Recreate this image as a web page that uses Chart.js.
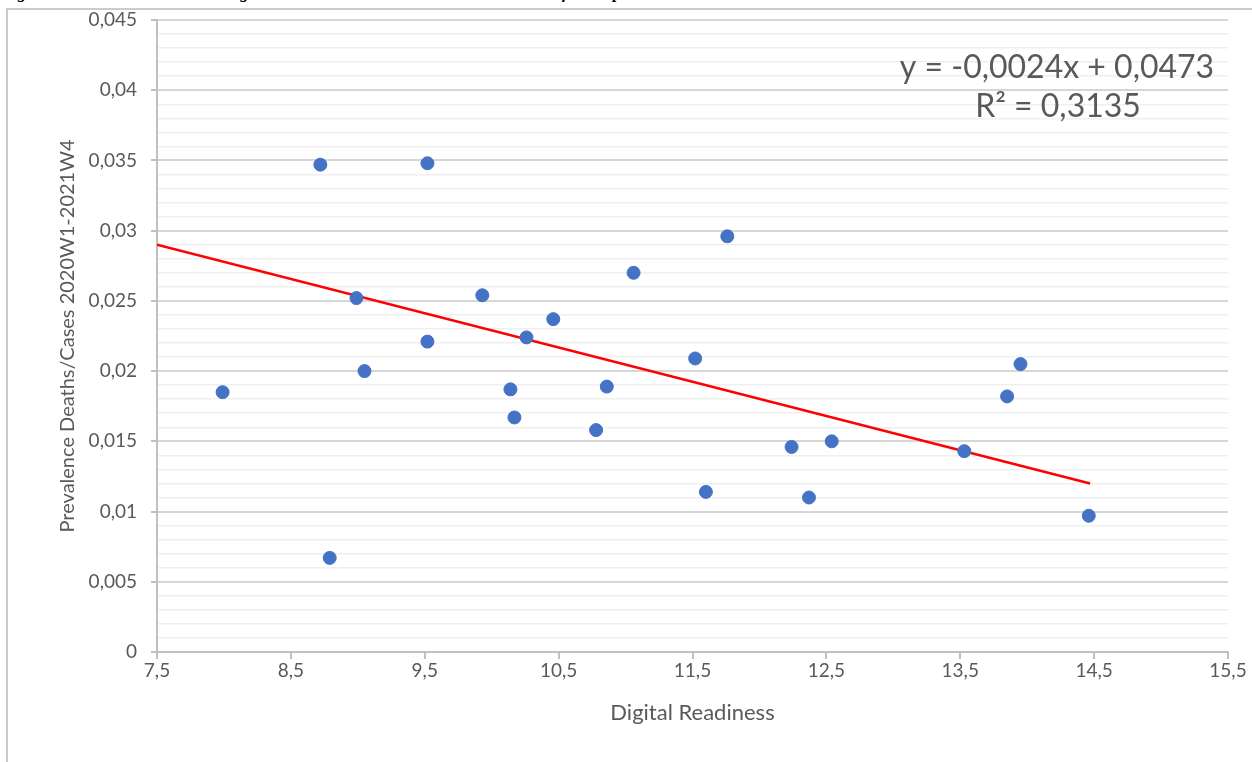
<!DOCTYPE html>
<html>
<head>
<meta charset="utf-8">
<script src="https://cdn.jsdelivr.net/npm/chart.js@4.4.1/dist/chart.umd.min.js"></script>
<style>
  html, body { margin: 0; padding: 0; background: #fff; }
  #page { position: relative; width: 1252px; height: 762px; overflow: hidden; }
  #caption { position: absolute; left: 2px; top: -17px; font-family: "Liberation Serif", serif; font-style: italic; font-weight: bold; font-size: 17px; color: #000; white-space: nowrap; }
  #frame { position: absolute; left: 6px; top: 8px; width: 1260px; height: 800px; border-left: 2px solid #cccccc; border-top: 2px solid #cccccc; background: #fff; }
  #wrap { position: absolute; left: 0; top: 0; width: 1252px; height: 762px; }
</style>
</head>
<body>
<div id="page">
  <div id="caption">Figure 5 - Correlation between Digital Readiness and Prevalence Cases/Deaths for the period considered</div>
  <div id="frame"></div>
  <div id="wrap"><canvas id="scatterChart"></canvas></div>
</div>
<script>
// digital readiness (x) vs prevalence deaths/cases (y)
const readiness = [7.99, 8.72, 8.79, 8.99, 9.05, 9.52, 9.52, 9.93, 10.14, 10.17, 10.26, 10.46,
                   10.78, 10.86, 11.06, 11.52, 11.60, 11.76, 12.24, 12.37, 12.54, 13.53, 13.85, 13.95, 14.46];
const prevalence = [0.0185, 0.0347, 0.0067, 0.0252, 0.0200, 0.0348, 0.0221, 0.0254, 0.0187, 0.0167, 0.0224, 0.0237,
                    0.0158, 0.0189, 0.0270, 0.0209, 0.0114, 0.0296, 0.0146, 0.0110, 0.0150, 0.0143, 0.0182, 0.0205, 0.0097];
// linear trendline end points
const trendX = [7.5, 14.47];
const trendY = [0.0290, 0.0120];
const equationLines = ["y = -0,0024x + 0,0473", "R\u00b2 = 0,3135"];

const fmt = v => parseFloat(v.toFixed(4)).toString().replace('.', ',');
const textGray = '#595959';

const equationLabel = {
  id: 'equationLabel',
  afterDraw(chart) {
    const ctx = chart.ctx;
    const a = chart.chartArea;
    ctx.save();
    ctx.fillStyle = textGray;
    ctx.font = '32px Lato';
    ctx.textAlign = 'center';
    ctx.textBaseline = 'middle';
    ctx.fillText(equationLines[0], a.right - 171, a.top + 48);
    ctx.fillText(equationLines[1], a.right - 170, a.top + 87);
    ctx.restore();
  }
};

new Chart("scatterChart", {
  type: "scatter",
  data: {
    datasets: [{
      data: readiness.map((x, i) => ({ x: x, y: prevalence[i] })),
      backgroundColor: "#4472c4",
      borderColor: "#4472c4",
      pointRadius: 6.5,
      pointHoverRadius: 6.5
    }, {
      data: trendX.map((x, i) => ({ x: x, y: trendY[i] })),
      showLine: true,
      borderColor: "#ff0000",
      borderWidth: 2.5,
      pointRadius: 0
    }]
  },
  options: {
    responsive: true,
    maintainAspectRatio: false,
    animation: false,
    layout: { padding: { left: 10, top: 20, right: 24, bottom: 20 } },
    plugins: { legend: { display: false }, tooltip: { enabled: false } },
    scales: {
      x: {
        type: 'linear',
        min: 7.5,
        max: 15.5,
        afterFit(scale) { scale.height = 90; scale.paddingLeft = 0; scale.paddingRight = 0; },
        ticks: {
          stepSize: 1,
          color: textGray,
          font: { family: 'Lato', size: 19 },
          padding: 0,
          callback: v => fmt(v)
        },
        grid: { drawOnChartArea: false, tickLength: 7, tickColor: '#c0c0c0', lineWidth: 2 },
        border: { color: '#c0c0c0', width: 2 },
        title: {
          display: true,
          text: 'Digital Readiness',
          color: textGray,
          font: { family: 'Lato', size: 22 },
          padding: { top: 0, bottom: 16 }
        }
      },
      y: {
        min: 0,
        max: 0.045,
        afterFit(scale) { scale.width = 147; scale.paddingTop = 0; scale.paddingBottom = 0; },
        ticks: {
          stepSize: 0.001,
          maxTicksLimit: 100,
          autoSkip: false,
          color: textGray,
          font: { family: 'Lato', size: 19 },
          padding: 14,
          callback: (v, i) => i % 5 === 0 ? fmt(v) : ''
        },
        grid: {
          color: c => c.index % 5 === 0 ? '#d6d6d6' : '#efefef',
          lineWidth: c => c.index % 5 === 0 ? 2 : 1.5,
          tickLength: 6,
          tickColor: c => c.index % 5 === 0 ? '#c0c0c0' : 'rgba(0,0,0,0)'
        },
        border: { color: '#c0c0c0', width: 2 },
        title: {
          display: true,
          text: 'Prevalence Deaths/Cases 2020W1-2021W4',
          color: textGray,
          font: { family: 'Lato', size: 20 },
          padding: { top: 46, bottom: 0 }
        }
      }
    }
  },
  plugins: [equationLabel]
});
</script>
</body>
</html>
